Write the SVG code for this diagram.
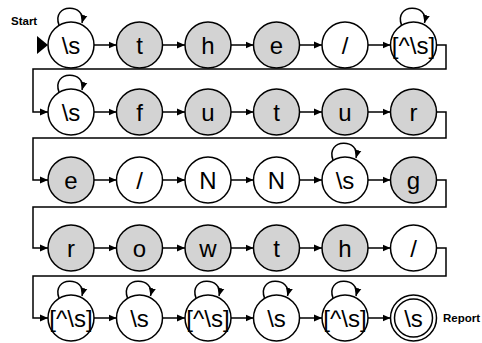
<svg xmlns="http://www.w3.org/2000/svg" width="482" height="343" viewBox="0 0 482 343">
<style>
.n{fill:#fff;stroke:#000;stroke-width:1.5}
.g{fill:#d3d3d3;stroke:#000;stroke-width:1.5}
.t{font-family:"Liberation Sans",Arial,sans-serif;font-size:24px;text-anchor:middle;dominant-baseline:central;fill:#000}
.b{font-family:"Liberation Sans",Arial,sans-serif;font-size:11.5px;font-weight:bold;fill:#000}
.e{fill:none;stroke:#000;stroke-width:1.5;marker-end:url(#ah)}
</style>
<defs>
<marker id="ah" markerUnits="userSpaceOnUse" markerWidth="9" markerHeight="8" refX="8" refY="4" orient="auto">
<path d="M0,0.5 L8,4 L0,7.5 Z" fill="#000"/>
</marker>
</defs>
<rect width="482" height="343" fill="#fff"/>
<g id="connectors">
<path d="M37,36 L48,45 L37,54 Z" fill="#000"/>
<path class="e" d="M94,45 H116.5"/>
<path class="e" d="M162.5,45 H185"/>
<path class="e" d="M231,45 H253.5"/>
<path class="e" d="M299.5,45 H322"/>
<path class="e" d="M368,45 H390.5"/>
<path class="e" d="M436.5,45 H446 V69 H33 V112 H48"/>
<path class="e" d="M94,112 H116.5"/>
<path class="e" d="M162.5,112 H185"/>
<path class="e" d="M231,112 H253.5"/>
<path class="e" d="M299.5,112 H322"/>
<path class="e" d="M368,112 H390.5"/>
<path class="e" d="M436.5,112 H446 V138 H33 V180 H48"/>
<path class="e" d="M94,180 H116.5"/>
<path class="e" d="M162.5,180 H185"/>
<path class="e" d="M231,180 H253.5"/>
<path class="e" d="M299.5,180 H322"/>
<path class="e" d="M368,180 H390.5"/>
<path class="e" d="M436.5,180 H446 V207 H33 V248 H48"/>
<path class="e" d="M94,248 H116.5"/>
<path class="e" d="M162.5,248 H185"/>
<path class="e" d="M231,248 H253.5"/>
<path class="e" d="M299.5,248 H322"/>
<path class="e" d="M368,248 H390.5"/>
<path class="e" d="M436.5,248 H446 V276 H33 V318 H48"/>
<path class="e" d="M94,318 H116.5"/>
<path class="e" d="M162.5,318 H185"/>
<path class="e" d="M231,318 H253.5"/>
<path class="e" d="M299.5,318 H322"/>
<path class="e" d="M368,318 H390.5"/>
<path class="e" d="M59,25 C51,3 87,3 82,23"/>
<path class="e" d="M401.5,25 C393.5,3 429.5,3 424.5,23"/>
<path class="e" d="M59,92 C51,70 87,70 82,90"/>
<path class="e" d="M333,160 C325,138 361,138 356,158"/>
<path class="e" d="M59,298 C51,276 87,276 82,296"/>
<path class="e" d="M127.5,298 C119.5,276 155.5,276 150.5,296"/>
<path class="e" d="M196,298 C188,276 224,276 219,296"/>
<path class="e" d="M264.5,298 C256.5,276 292.5,276 287.5,296"/>
<path class="e" d="M333,298 C325,276 361,276 356,296"/>
</g>
<text class="b" x="11" y="25">Start</text>
<text class="b" x="443" y="322">Report</text>
<g id="r1c1"><circle class="n" cx="71" cy="45" r="23"/><text class="t" x="71" y="45">\s</text></g>
<g id="r1c2"><circle class="g" cx="139.5" cy="45" r="23"/><text class="t" x="139.5" y="45">t</text></g>
<g id="r1c3"><circle class="g" cx="208" cy="45" r="23"/><text class="t" x="208" y="45">h</text></g>
<g id="r1c4"><circle class="g" cx="276.5" cy="45" r="23"/><text class="t" x="276.5" y="45">e</text></g>
<g id="r1c5"><circle class="n" cx="345" cy="45" r="23"/><text class="t" x="345" y="45">/</text></g>
<g id="r1c6"><circle class="n" cx="413.5" cy="45" r="23"/><text class="t" x="413.5" y="45">[^\s]</text></g>
<g id="r2c1"><circle class="n" cx="71" cy="112" r="23"/><text class="t" x="71" y="112">\s</text></g>
<g id="r2c2"><circle class="g" cx="139.5" cy="112" r="23"/><text class="t" x="139.5" y="112">f</text></g>
<g id="r2c3"><circle class="g" cx="208" cy="112" r="23"/><text class="t" x="208" y="112">u</text></g>
<g id="r2c4"><circle class="g" cx="276.5" cy="112" r="23"/><text class="t" x="276.5" y="112">t</text></g>
<g id="r2c5"><circle class="g" cx="345" cy="112" r="23"/><text class="t" x="345" y="112">u</text></g>
<g id="r2c6"><circle class="g" cx="413.5" cy="112" r="23"/><text class="t" x="413.5" y="112">r</text></g>
<g id="r3c1"><circle class="g" cx="71" cy="180" r="23"/><text class="t" x="71" y="180">e</text></g>
<g id="r3c2"><circle class="n" cx="139.5" cy="180" r="23"/><text class="t" x="139.5" y="180">/</text></g>
<g id="r3c3"><circle class="n" cx="208" cy="180" r="23"/><text class="t" x="208" y="180">N</text></g>
<g id="r3c4"><circle class="n" cx="276.5" cy="180" r="23"/><text class="t" x="276.5" y="180">N</text></g>
<g id="r3c5"><circle class="n" cx="345" cy="180" r="23"/><text class="t" x="345" y="180">\s</text></g>
<g id="r3c6"><circle class="g" cx="413.5" cy="180" r="23"/><text class="t" x="413.5" y="180">g</text></g>
<g id="r4c1"><circle class="g" cx="71" cy="248" r="23"/><text class="t" x="71" y="248">r</text></g>
<g id="r4c2"><circle class="g" cx="139.5" cy="248" r="23"/><text class="t" x="139.5" y="248">o</text></g>
<g id="r4c3"><circle class="g" cx="208" cy="248" r="23"/><text class="t" x="208" y="248">w</text></g>
<g id="r4c4"><circle class="g" cx="276.5" cy="248" r="23"/><text class="t" x="276.5" y="248">t</text></g>
<g id="r4c5"><circle class="g" cx="345" cy="248" r="23"/><text class="t" x="345" y="248">h</text></g>
<g id="r4c6"><circle class="n" cx="413.5" cy="248" r="23"/><text class="t" x="413.5" y="248">/</text></g>
<g id="r5c1"><circle class="n" cx="71" cy="318" r="23"/><text class="t" x="71" y="318">[^\s]</text></g>
<g id="r5c2"><circle class="n" cx="139.5" cy="318" r="23"/><text class="t" x="139.5" y="318">\s</text></g>
<g id="r5c3"><circle class="n" cx="208" cy="318" r="23"/><text class="t" x="208" y="318">[^\s]</text></g>
<g id="r5c4"><circle class="n" cx="276.5" cy="318" r="23"/><text class="t" x="276.5" y="318">\s</text></g>
<g id="r5c5"><circle class="n" cx="345" cy="318" r="23"/><text class="t" x="345" y="318">[^\s]</text></g>
<g id="r5c6"><circle class="n" cx="413.5" cy="318" r="23"/><circle class="n" cx="413.5" cy="318" r="19"/><text class="t" x="413.5" y="318">\s</text></g>
</svg>
